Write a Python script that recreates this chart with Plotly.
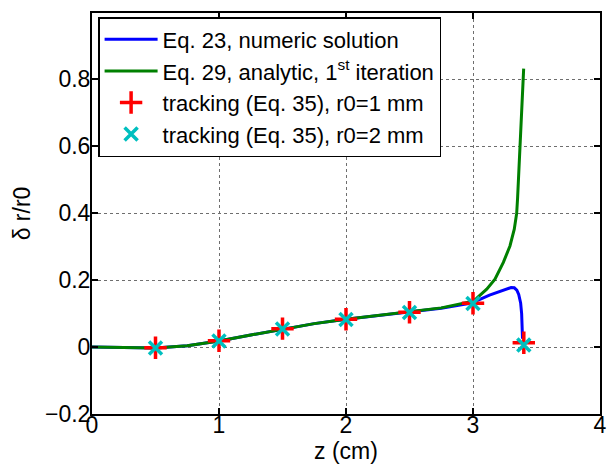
import plotly.graph_objects as go

# Eq. 23 numeric solution
z_num = [0, 0.25, 0.5, 0.75, 1.0, 1.25, 1.5, 1.75, 2.0, 2.25, 2.5, 2.75, 3.0,
         3.05, 3.13, 3.2, 3.26, 3.3, 3.325, 3.345, 3.36, 3.375, 3.383, 3.387, 3.39]
dr_num = [0, -0.002, -0.003, 0.004, 0.018, 0.036, 0.054, 0.070, 0.083, 0.094,
          0.104, 0.116, 0.132, 0.142, 0.155, 0.165, 0.173, 0.178, 0.177, 0.170,
          0.157, 0.132, 0.100, 0.060, 0.025]

# Eq. 29 analytic, first iteration
z_ana = [0, 0.25, 0.5, 0.75, 1.0, 1.25, 1.5, 1.75, 2.0, 2.25, 2.5, 2.75, 3.0,
         3.03, 3.108, 3.173, 3.239, 3.291, 3.325, 3.336, 3.344, 3.351, 3.358,
         3.370, 3.381, 3.391, 3.399]
dr_ana = [0, -0.002, -0.003, 0.004, 0.018, 0.036, 0.054, 0.070, 0.083, 0.094,
          0.105, 0.117, 0.137, 0.146, 0.173, 0.203, 0.253, 0.302, 0.352, 0.375,
          0.400, 0.445, 0.500, 0.600, 0.700, 0.800, 0.832]

# particle tracking (Eq. 35)
z_trk = [0.5, 1.0, 1.5, 2.0, 2.5, 3.0, 3.4]
dr_trk_r1 = [-0.002, 0.019, 0.055, 0.083, 0.104, 0.131, 0.013]
dr_trk_r2 = [-0.003, 0.018, 0.054, 0.082, 0.103, 0.130, 0.006]

x_ticks = [0, 1, 2, 3, 4]
y_ticks = [-0.2, 0, 0.2, 0.4, 0.6, 0.8]
y_tick_text = ["\u22120.2", "0", "0.2", "0.4", "0.6", "0.8"]

FONT = "Liberation Sans, Arial, Helvetica, sans-serif"
FS = 23
LEG_FS = 22

fig = go.Figure()
fig.add_trace(go.Scatter(x=z_num, y=dr_num, mode="lines",
                         line=dict(color="rgb(0,0,255)", width=3),
                         name="Eq. 23, numeric solution"))
fig.add_trace(go.Scatter(x=z_ana, y=dr_ana, mode="lines",
                         line=dict(color="rgb(0,128,0)", width=3),
                         name="Eq. 29, analytic, 1<sup>st</sup> iteration"))
fig.add_trace(go.Scatter(x=z_trk, y=dr_trk_r1, mode="markers",
                         marker=dict(symbol="cross-thin", size=16,
                                     line=dict(color="rgb(255,0,0)", width=3.5)),
                         name="tracking (Eq. 35), r0=1 mm"))
fig.add_trace(go.Scatter(x=z_trk, y=dr_trk_r2, mode="markers",
                         marker=dict(symbol="x-thin", size=13,
                                     line=dict(color="rgb(0,191,191)", width=3.5)),
                         name="tracking (Eq. 35), r0=2 mm"))

axis_common = dict(
    showline=True, linecolor="black", linewidth=2, mirror="ticks",
    ticks="inside", ticklen=6, tickwidth=1.5, tickcolor="black",
    showgrid=True, gridcolor="rgb(110,110,110)", griddash="dot", gridwidth=1,
    zeroline=False, tickfont=dict(size=FS, color="black", family=FONT),
)

fig.update_xaxes(range=[0, 4], tickvals=x_ticks, ticklabelstandoff=-11,
                 **axis_common,
                 title=dict(text="z (cm)", font=dict(size=FS, color="black", family=FONT),
                            standoff=0))
fig.update_yaxes(range=[-0.2, 0.998], tickvals=y_ticks, ticktext=y_tick_text,
                 ticklabelstandoff=-5, **axis_common,
                 title=dict(text="\u03b4 r/r0", font=dict(size=FS, color="black", family=FONT),
                            standoff=8))

fig.update_layout(
    width=615, height=464,
    margin=dict(l=92, r=15, t=13, b=50, autoexpand=False),
    plot_bgcolor="white", paper_bgcolor="white",
    font=dict(family=FONT, size=FS, color="black"),
    legend=dict(x=0.012, y=0.99, xanchor="left", yanchor="top",
                bgcolor="white", bordercolor="black", borderwidth=1.5,
                font=dict(size=LEG_FS, color="black", family=FONT),
                itemwidth=53, tracegroupgap=0),
    showlegend=True,
)

fig.write_html("out.html")
